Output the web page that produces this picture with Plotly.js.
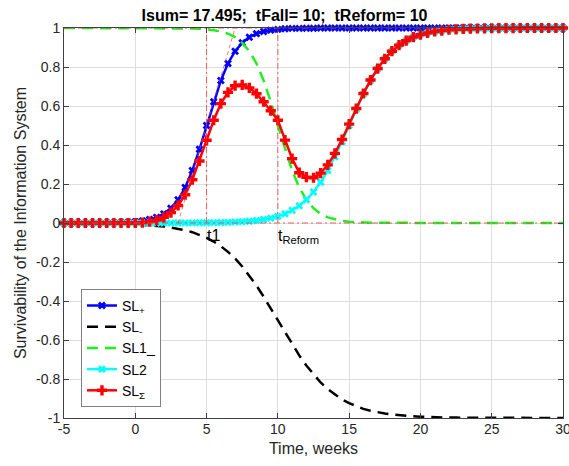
<!DOCTYPE html>
<html>
<head>
<meta charset="utf-8">
<script src="https://cdn.plot.ly/plotly-3.0.1.min.js"></script>
<style>html,body{margin:0;padding:0;background:#fff}#chart{width:569px;height:466px}</style>
</head>
<body>
<div id="chart"></div>
<script>
// time grid, weeks
const weeks = [-5,-4.5,-4,-3.5,-3,-2.5,-2,-1.5,-1,-0.5,
  0,0.5,1,1.5,2,2.5,3,3.5,4,4.5,
  5,5.5,6,6.5,7,7.5,8,8.5,9,9.5,
  10,10.5,11,11.5,12,12.5,13,13.5,14,14.5,
  15,15.5,16,16.5,17,17.5,18,18.5,19,19.5,
  20,20.5,21,21.5,22,22.5,23,23.5,24,24.5,
  25,25.5,26,26.5,27,27.5,28,28.5,29,29.5,30];

const slPlus = [0,0.0001,0.0001,0.0002,0.0003,0.0006,0.0009,0.0015,0.0025,0.0041,
  0.0067,0.011,0.018,0.029,0.047,0.076,0.119,0.182,0.269,0.378,
  0.5,0.622,0.731,0.818,0.881,0.924,0.953,0.971,0.982,0.989,
  0.993,0.996,0.998,0.998,0.999,0.999,1,1,1,1,
  1,1,1,1,1,1,1,1,1,1,
  1,1,1,1,1,1,1,1,1,1,
  1,1,1,1,1,1,1,1,1,1,1];

const slMinus = [-0.0006,-0.0007,-0.0009,-0.0012,-0.0015,-0.0019,-0.0025,-0.0032,-0.0041,-0.0052,
  -0.0067,-0.0086,-0.011,-0.014,-0.018,-0.023,-0.029,-0.037,-0.047,-0.060,
  -0.076,-0.095,-0.119,-0.148,-0.182,-0.223,-0.269,-0.321,-0.378,-0.438,
  -0.5,-0.562,-0.622,-0.679,-0.731,-0.777,-0.818,-0.852,-0.881,-0.905,
  -0.924,-0.940,-0.953,-0.963,-0.971,-0.977,-0.982,-0.986,-0.989,-0.991,
  -0.993,-0.995,-0.996,-0.997,-0.998,-0.998,-0.998,-0.999,-0.999,-0.999,
  -0.999,-1,-1,-1,-1,-1,-1,-1,-1,-1,-1];

const slOneMinus = [1,1,1,1,1,1,1,1,1,1,
  1,1,0.9999,0.9999,0.9997,0.9994,0.9991,0.9985,0.9975,0.996,
  0.993,0.989,0.982,0.971,0.953,0.924,0.881,0.818,0.731,0.622,
  0.5,0.378,0.269,0.182,0.119,0.076,0.047,0.029,0.018,0.011,
  0.007,0.004,0.0025,0.0015,0.0009,0.0006,0.0003,0.0002,0.0001,0.0001,
  0,0,0,0,0,0,0,0,0,0,
  0,0,0,0,0,0,0,0,0,0,0];

const slTwo = [0,0,0,0,0,0,0,0,0,0,
  0,0,0.0001,0.0001,0.0002,0.0002,0.0003,0.0005,0.0007,0.0009,
  0.0013,0.0018,0.0025,0.0034,0.0048,0.0067,0.0093,0.013,0.018,0.025,
  0.034,0.047,0.065,0.088,0.119,0.159,0.209,0.269,0.339,0.417,
  0.5,0.583,0.661,0.731,0.791,0.841,0.881,0.912,0.935,0.953,
  0.966,0.975,0.982,0.987,0.991,0.993,0.995,0.9965,0.9975,0.998,
  0.9987,0.999,0.9994,0.9995,1,1,1,1,1,1,1];

const slSum = [0,0,0,0,0,0,0,0,0,0,
  0,0.002,0.007,0.015,0.029,0.053,0.09,0.145,0.222,0.318,
  0.424,0.527,0.612,0.67,0.704,0.708,0.693,0.663,0.622,0.576,
  0.527,0.425,0.33,0.258,0.235,0.232,0.256,0.298,0.357,0.428,
  0.507,0.587,0.664,0.733,0.792,0.842,0.881,0.912,0.935,0.953,
  0.966,0.975,0.982,0.987,0.991,0.993,0.995,0.9965,0.9975,0.998,
  0.9987,0.999,0.9994,0.9995,1,1,1,1,1,1,1];

const seriesNames = ['SL<sub>+</sub>','SL<sub>-</sub>','SL1_','SL2','SL<sub>Σ</sub>'];

// reference lines (time marks and levels)
const tFall = 10, tOne = 5;
const refLevels = [0, 1];
const tangentX = [3, 7];
const tangentY = [0, 1];

const xTicks = [-5,0,5,10,15,20,25,30];
const xTickText = ['-5','0','5','10','15','20','25','30'];
const yTicks = [-1,-0.8,-0.6,-0.4,-0.2,0,0.2,0.4,0.6,0.8,1];
const yTickText = ['-1','-0.8','-0.6','-0.4','-0.2','0','0.2','0.4','0.6','0.8','1'];

const refColor = 'rgba(235,70,70,0.85)';
const refDash = '6px,3px,2px,3px';

const traces = [
  {x: weeks, y: slPlus, name: seriesNames[0], mode: 'lines+markers', cliponaxis: false,
   line: {color: 'rgb(0,0,255)', width: 2.5}, marker: {symbol: 'x', size: 7, color: 'rgb(0,0,255)'}},
  {x: weeks, y: slMinus, name: seriesNames[1], mode: 'lines', cliponaxis: false,
   line: {color: '#000000', width: 2.5, dash: '11px,7px'}},
  {x: weeks, y: slOneMinus, name: seriesNames[2], mode: 'lines', cliponaxis: false,
   line: {color: 'rgb(30,240,30)', width: 2.5, dash: '11px,7px'}},
  {x: weeks, y: slTwo, name: seriesNames[3], mode: 'lines+markers', cliponaxis: false,
   line: {color: 'rgb(0,255,255)', width: 2.5}, marker: {symbol: 'x', size: 7, color: 'rgb(0,255,255)'}},
  {x: weeks, y: slSum, name: seriesNames[4], mode: 'lines+markers', cliponaxis: false,
   line: {color: 'rgb(255,0,0)', width: 2.5}, marker: {symbol: 'cross', size: 8.5, color: 'rgb(255,0,0)'}},
  {x: [tOne, tOne], y: refLevels, mode: 'lines', showlegend: false, hoverinfo: 'skip',
   line: {color: refColor, width: 1, dash: refDash}},
  {x: [tFall, tFall], y: refLevels, mode: 'lines', showlegend: false, hoverinfo: 'skip',
   line: {color: refColor, width: 1, dash: refDash}},
  {x: [weeks[0], weeks[weeks.length-1]], y: [refLevels[0], refLevels[0]], mode: 'lines', showlegend: false, hoverinfo: 'skip',
   line: {color: refColor, width: 1, dash: refDash}},
  {x: [weeks[0], weeks[weeks.length-1]], y: [refLevels[1], refLevels[1]], mode: 'lines', showlegend: false, hoverinfo: 'skip',
   line: {color: refColor, width: 1, dash: refDash}},
  {x: tangentX, y: tangentY, mode: 'lines', showlegend: false, hoverinfo: 'skip',
   line: {color: 'rgba(235,70,70,0.7)', width: 1, dash: '4px,3px'}}
];

const axisCommon = {
  showline: true, mirror: 'ticks', linecolor: '#404040', linewidth: 1,
  ticks: 'inside', ticklen: 5, tickcolor: '#404040',
  showgrid: true, gridcolor: '#dedede', gridwidth: 1, zeroline: false,
  ticklabeloverflow: 'allow',
  tickfont: {family: 'Liberation Sans, Arial, sans-serif', size: 14, color: '#262626'}
};

const layout = {
  width: 569, height: 466,
  margin: {l: 64, r: 6, t: 28, b: 48},
  paper_bgcolor: '#ffffff', plot_bgcolor: '#ffffff',
  font: {family: 'Liberation Sans, Arial, sans-serif', color: '#262626'},
  title: {text: '<b>Isum= 17.495;  tFall= 10;  tReform= 10</b>', x: 0.5, xanchor: 'center', y: 0.968, yanchor: 'middle',
    font: {family: 'Liberation Sans, Arial, sans-serif', size: 16, color: '#000000'}},
  xaxis: Object.assign({}, axisCommon, {range: [-5, 30], tickvals: xTicks, ticktext: xTickText,
    ticklabelstandoff: -2,
    title: {text: 'Time, weeks', font: {size: 16, color: '#262626'}, standoff: 7}}),
  yaxis: Object.assign({}, axisCommon, {range: [-1, 1], tickvals: yTicks, ticktext: yTickText,
    title: {text: 'Survivability of the Information System', font: {size: 16, color: '#262626'}, standoff: 5}}),
  showlegend: true,
  legend: {x: 0.034, y: 0.331, xanchor: 'left', yanchor: 'top', bgcolor: '#ffffff',
    bordercolor: '#808080', borderwidth: 1, font: {size: 14, color: '#000000'}, tracegroupgap: 0},
  annotations: [
    {x: tOne, y: 0, xref: 'x', yref: 'y', text: 't1', showarrow: false, xanchor: 'left', yanchor: 'top',
     yshift: -2, xshift: -2, font: {size: 16, color: '#000000'}},
    {x: tFall, y: 0, xref: 'x', yref: 'y', text: 't<sub>Reform</sub>', showarrow: false, xanchor: 'left', yanchor: 'top',
     yshift: -2, xshift: -2, font: {size: 16, color: '#000000'}}
  ]
};

Plotly.newPlot('chart', traces, layout, {displayModeBar: false, staticPlot: true});
</script>
</body>
</html>
